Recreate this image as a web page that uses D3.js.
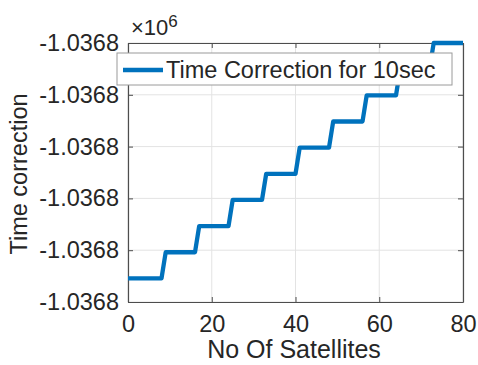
<!DOCTYPE html>
<html>
<head>
<meta charset="utf-8">
<script src="https://cdn.jsdelivr.net/npm/d3@7"></script>
<style>
  body { margin: 0; background: #fff; }
  svg { font-family: "Liberation Sans", Arial, sans-serif; }
</style>
</head>
<body>
<div id="chart"></div>
<script>
// samples (No Of Satellites) and the time correction at each
const satellites = [0, 8, 9, 16, 17, 24, 25, 32, 33, 40, 41, 48, 49, 56, 57, 64, 65, 72, 73, 80];
const timeCorrection = [
  -1036800.0909, -1036800.0909,
  -1036800.0808, -1036800.0808,
  -1036800.0707, -1036800.0707,
  -1036800.0606, -1036800.0606,
  -1036800.0505, -1036800.0505,
  -1036800.0404, -1036800.0404,
  -1036800.0303, -1036800.0303,
  -1036800.0202, -1036800.0202,
  -1036800.0101, -1036800.0101,
  -1036800.0000, -1036800.0000
];
const xTicks = [0, 20, 40, 60, 80];
const yTicks = [-1036800.10, -1036800.08, -1036800.06, -1036800.04, -1036800.02, -1036800.00];
const yTickLabels = ["-1.0368", "-1.0368", "-1.0368", "-1.0368", "-1.0368", "-1.0368"];
const seriesName = "Time Correction for 10sec";

const margin = {top: 43, right: 15, bottom: 63, left: 128},
    width = 478 - margin.left - margin.right,
    height = 365 - margin.top - margin.bottom;

const svg = d3.select("#chart").append("svg")
    .attr("width", 478)
    .attr("height", 365)
  .append("g")
    .attr("transform", "translate(" + margin.left + "," + margin.top + ")");

const x = d3.scaleLinear().domain([0, 80]).range([0, width]);
const y = d3.scaleLinear().domain([-1036800.10, -1036800.00]).range([height, 0]);

const axisColor = "#4d4d4d";
const fontSize = 23.5;

// grid lines
svg.append("g").selectAll("line.gx")
  .data(xTicks)
  .enter().append("line")
  .attr("x1", d => x(d)).attr("x2", d => x(d))
  .attr("y1", 0).attr("y2", height)
  .attr("stroke", "#e3e3e3").attr("stroke-width", 1);
svg.append("g").selectAll("line.gy")
  .data(yTicks)
  .enter().append("line")
  .attr("x1", 0).attr("x2", width)
  .attr("y1", d => y(d)).attr("y2", d => y(d))
  .attr("stroke", "#e3e3e3").attr("stroke-width", 1);

// axes
const xAxis = d3.axisBottom(x).tickValues(xTicks).tickSizeInner(-5).tickSizeOuter(0).tickPadding(13);
const gX = svg.append("g").attr("transform", "translate(0," + height + ")").call(xAxis);
const yAxis = d3.axisLeft(y).tickValues(yTicks).tickSizeInner(-5).tickSizeOuter(0).tickPadding(9)
  .tickFormat((d, i) => yTickLabels[i]);
const gY = svg.append("g").call(yAxis);
// top / right box with ticks
const gXt = svg.append("g").call(d3.axisTop(x).tickValues(xTicks).tickSizeInner(-5).tickSizeOuter(0).tickFormat(""));
const gYr = svg.append("g").attr("transform", "translate(" + width + ",0)")
  .call(d3.axisRight(y).tickValues(yTicks).tickSizeInner(-5).tickSizeOuter(0).tickFormat(""));

[gX, gY, gXt, gYr].forEach(g => {
  g.select(".domain").attr("stroke", axisColor).attr("stroke-width", 1.2);
  g.selectAll(".tick line").attr("stroke", axisColor);
  g.selectAll(".tick text").attr("fill", "#262626").style("font-size", fontSize + "px")
    .style("font-family", "'Liberation Sans', Arial, sans-serif");
});

// the step line
const line = d3.line()
  .x((d, i) => x(satellites[i]))
  .y(d => y(d));
svg.append("path")
  .datum(timeCorrection)
  .attr("fill", "none")
  .attr("stroke", "#0072BD")
  .attr("stroke-width", 4.3)
  .attr("stroke-linejoin", "round")
  .attr("d", line);

// exponent label
const expo = svg.append("text")
  .attr("x", 3).attr("y", -8)
  .attr("fill", "#262626")
  .style("font-size", "22px");
expo.append("tspan").text("\u00d710");
expo.append("tspan").attr("dy", -8).style("font-size", "17px").text("6");

// legend
const leg = svg.append("g").attr("transform", "translate(-11,10)");
leg.append("rect")
  .attr("width", 335).attr("height", 32)
  .attr("fill", "#fff").attr("stroke", "#9a9a9a").attr("stroke-width", 1);
leg.append("line")
  .attr("x1", 6).attr("x2", 46).attr("y1", 17).attr("y2", 17)
  .attr("stroke", "#0072BD").attr("stroke-width", 4.3);
leg.append("text")
  .attr("x", 49).attr("y", 25)
  .attr("fill", "#262626")
  .style("font-size", fontSize + "px")
  .text(seriesName);

// axis labels
svg.append("text")
  .attr("text-anchor", "middle")
  .attr("x", 166)
  .attr("y", height + 56)
  .attr("fill", "#262626")
  .style("font-size", "25px")
  .text("No Of Satellites");
svg.append("text")
  .attr("text-anchor", "middle")
  .attr("transform", "rotate(-90)")
  .attr("x", -131)
  .attr("y", -margin.left + 27)
  .attr("fill", "#262626")
  .style("font-size", "23.5px")
  .text("Time correction");
</script>
</body>
</html>
